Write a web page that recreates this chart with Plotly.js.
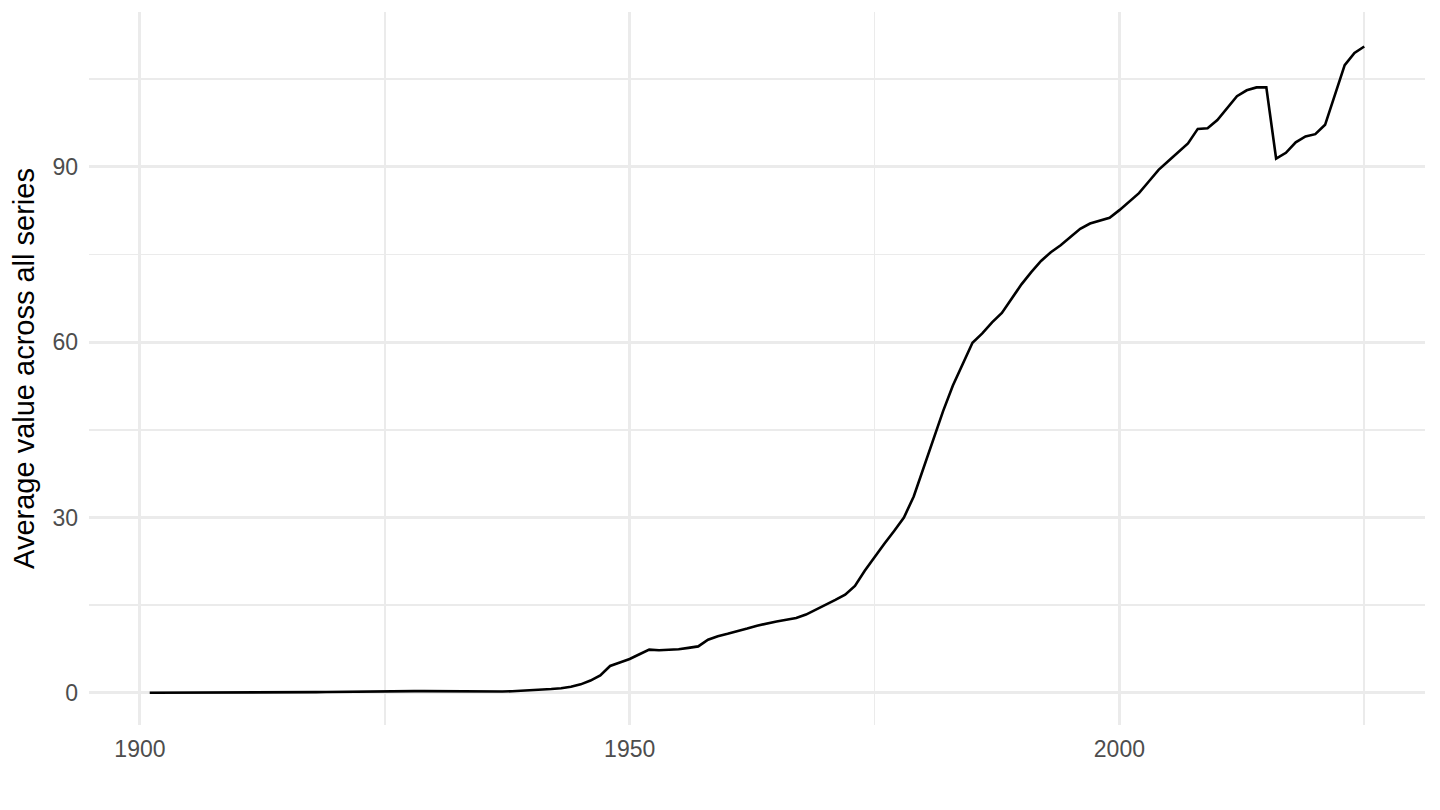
<!DOCTYPE html>
<html>
<head>
<meta charset="utf-8">
<script src="https://cdn.plot.ly/plotly-3.0.1.min.js"></script>
<style>
  html, body { margin: 0; padding: 0; background: #fff; }
  #chart { width: 1440px; height: 810px; }
</style>
</head>
<body>
<div id="chart"></div>
<script>
// yearly averages
var years = [
  1901, 1902, 1903, 1904, 1905, 1906, 1907, 1908, 1909, 1910,
  1911, 1912, 1913, 1914, 1915, 1916, 1917, 1918, 1919, 1920,
  1921, 1922, 1923, 1924, 1925, 1926, 1927, 1928, 1929, 1930,
  1931, 1932, 1933, 1934, 1935, 1936, 1937, 1938, 1939, 1940,
  1941, 1942, 1943, 1944, 1945, 1946, 1947, 1948, 1949, 1950,
  1951, 1952, 1953, 1954, 1955, 1956, 1957, 1958, 1959, 1960,
  1961, 1962, 1963, 1964, 1965, 1966, 1967, 1968, 1969, 1970,
  1971, 1972, 1973, 1974, 1975, 1976, 1977, 1978, 1979, 1980,
  1981, 1982, 1983, 1984, 1985, 1986, 1987, 1988, 1989, 1990,
  1991, 1992, 1993, 1994, 1995, 1996, 1997, 1998, 1999, 2000,
  2001, 2002, 2003, 2004, 2005, 2006, 2007, 2008, 2009, 2010,
  2011, 2012, 2013, 2014, 2015, 2016, 2017, 2018, 2019, 2020,
  2021, 2022, 2023, 2024, 2025
];

var avgValue = [
  0.02, 0.02, 0.02, 0.02, 0.02, 0.02, 0.03, 0.03, 0.03, 0.03,
  0.04, 0.04, 0.05, 0.05, 0.06, 0.08, 0.1, 0.12, 0.15, 0.18,
  0.2, 0.22, 0.24, 0.26, 0.28, 0.3, 0.3, 0.3, 0.29, 0.28,
  0.26, 0.22, 0.2, 0.17, 0.12, 0.15, 0.22, 0.28, 0.35, 0.42,
  0.52, 0.65, 0.8, 1.05, 1.45, 2.1, 3.0, 4.6, 5.2, 5.8,
  6.6, 7.4, 7.3, 7.35, 7.45, 7.7, 7.95, 9.1, 9.7, 10.1,
  10.5, 11.0, 11.5, 11.9, 12.2, 12.5, 12.8, 13.4, 14.2, 15.0,
  15.9, 16.8, 18.3, 20.9, 23.3, 25.5, 27.7, 30.0, 33.6, 38.5,
  43.6, 48.2, 52.6, 56.3, 59.9, 61.5, 63.4, 65.0, 67.5, 69.9,
  72.0, 73.9, 75.4, 76.6, 78.0, 79.4, 80.3, 80.8, 81.3, 82.6,
  84.0, 85.5, 87.5, 89.5, 91.0, 92.5, 94.0, 96.5, 96.6, 98.0,
  100.1, 102.1, 103.1, 103.6, 103.6, 91.4, 92.4, 94.2, 95.2, 95.6,
  97.2, 102.5, 107.4, 109.5, 110.6
];

var xTicks = [1900, 1950, 2000];
var xMinor = [1925, 1975, 2025];
var yTicks = [0, 30, 60, 90];
var yMinor = [15, 45, 75, 105];

var trace = {
  type: 'scatter',
  mode: 'lines',
  x: years,
  y: avgValue,
  line: { color: '#000000', width: 2.6 },
  hoverinfo: 'x+y'
};

var gridCol = '#ebebeb';

var layout = {
  width: 1440,
  height: 810,
  margin: { l: 89, r: 15, t: 12, b: 85 },
  paper_bgcolor: '#ffffff',
  plot_bgcolor: '#ffffff',
  font: { family: '"Liberation Sans", Arial, sans-serif', color: '#000000' },
  showlegend: false,
  xaxis: {
    range: [1894.8, 2031.2],
    tickmode: 'array',
    tickvals: xTicks,
    ticktext: xTicks.map(String),
    ticks: '',
    showline: false,
    zeroline: false,
    showgrid: true,
    gridcolor: gridCol,
    gridwidth: 3,
    minor: { tickmode: 'array', tickvals: xMinor, showgrid: true, gridcolor: gridCol, gridwidth: 1.7, ticks: '' },
    tickfont: { size: 23, color: '#4d4d4d' },
    ticklabelstandoff: 8
  },
  yaxis: {
    range: [-5.5, 116.5],
    tickmode: 'array',
    tickvals: yTicks,
    ticktext: yTicks.map(String),
    ticks: '',
    showline: false,
    zeroline: false,
    showgrid: true,
    gridcolor: gridCol,
    gridwidth: 3,
    minor: { tickmode: 'array', tickvals: yMinor, showgrid: true, gridcolor: gridCol, gridwidth: 1.7, ticks: '' },
    tickfont: { size: 23, color: '#4d4d4d' },
    ticklabelstandoff: 10,
    title: { text: 'Average value across all series', standoff: 9, font: { size: 29, color: '#000000' } }
  }
};

Plotly.newPlot('chart', [trace], layout, { displayModeBar: false, staticPlot: true });
</script>
</body>
</html>
